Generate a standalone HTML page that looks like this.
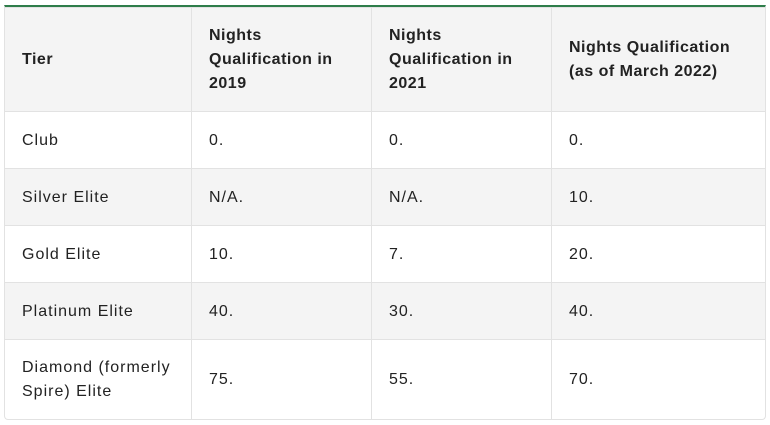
<!DOCTYPE html>
<html><head><style>
body{margin:0;background:#fff;width:770px;height:425px;overflow:hidden;font-family:"Liberation Sans",sans-serif;}
.wrap{position:absolute;left:4px;top:5px;width:762px;height:415px;border:1px solid #e2e2e2;border-top:2px solid #2e7d4a;border-radius:0 0 4px 4px;box-sizing:border-box;overflow:hidden}
table{border-collapse:collapse;width:762px;table-layout:fixed;margin-left:-1px}
td,th{border:1px solid #e2e2e2;text-align:left;vertical-align:middle;padding:1px 0 0 17px;font-size:16px;color:#222;}
th{font-weight:bold;line-height:24px;background:#f4f4f4;height:102px;letter-spacing:0.5px}
td{letter-spacing:1px}
tr:nth-child(odd) td{background:#f4f4f4}
td{height:55px}
</style></head><body>
<div class="wrap"><table>
<colgroup><col style="width:187px"><col style="width:180px"><col style="width:180px"><col style="width:215px"></colgroup>
<tr><th>Tier</th><th>Nights<br>Qualification in<br>2019</th><th>Nights<br>Qualification in<br>2021</th><th>Nights Qualification<br>(as of March 2022)</th></tr>
<tr><td>Club</td><td>0.</td><td>0.</td><td>0.</td></tr>
<tr><td>Silver Elite</td><td>N/A.</td><td>N/A.</td><td>10.</td></tr>
<tr><td>Gold Elite</td><td>10.</td><td>7.</td><td>20.</td></tr>
<tr><td>Platinum Elite</td><td>40.</td><td>30.</td><td>40.</td></tr>
<tr><td style="height:78px;line-height:24px">Diamond (formerly<br>Spire) Elite</td><td>75.</td><td>55.</td><td>70.</td></tr>
</table></div>
</body></html>
